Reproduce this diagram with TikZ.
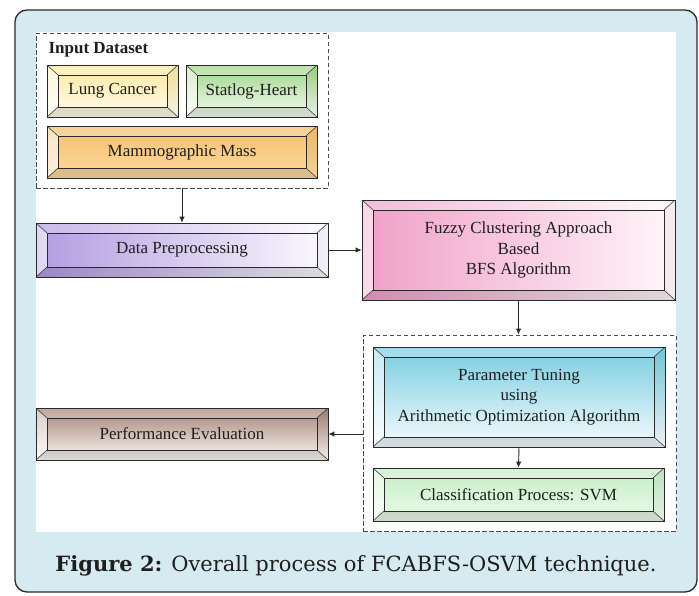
\documentclass[tikz,border=0pt]{standalone}
\usepackage{fontspec}
\setmainfont{Liberation Serif}
\newfontfamily\capfont{DejaVu Serif}
\usetikzlibrary{calc,arrows.meta}
\definecolor{panelblue}{HTML}{D6EBF1}
\definecolor{edge}{HTML}{2A2A2A}
\definecolor{txt}{HTML}{1E1E1E}
\newcommand{\boxfont}{\fontsize{17}{20.5}\selectfont}
\tikzset{
  bevel/.style={rectangle, draw=edge, line width=0.8pt, inner sep=0pt, align=center,
    font=\boxfont, text=txt,
    path picture={
      \path (path picture bounding box.south west) coordinate (bSW)
            (path picture bounding box.north east) coordinate (bNE);
      \path (bSW -| bNE) coordinate (bSE) (bNE -| bSW) coordinate (bNW);
      \path ($(bSW)+(11pt,10pt)$) coordinate (iSW) ($(bNE)+(-11pt,-10pt)$) coordinate (iNE);
      \path (iSW -| iNE) coordinate (iSE) (iNE -| iSW) coordinate (iNW);
      \fill[white,opacity=.6] (bSW) -- (bNW) -- (iNW) -- (iSW) -- cycle;
      \fill[white,opacity=.3] (bNW) -- (bNE) -- (iNE) -- (iNW) -- cycle;
      \fill[black,opacity=.12] (bSW) -- (bSE) -- (iSE) -- (iSW) -- cycle;
      \fill[black,opacity=.04] (bSE) -- (bNE) -- (iNE) -- (iSE) -- cycle;
      \draw[edge,line width=0.8pt] (iSW) rectangle (iNE);
      \draw[edge,line width=0.5pt] (bSW) -- (iSW) (bNW) -- (iNW) (bNE) -- (iNE) (bSE) -- (iSE);
    }},
  groupbox/.style={rectangle, draw=edge!85, line width=0.9pt, dash pattern=on 4.5pt off 2.5pt, inner sep=0pt},
  conn/.style={draw=edge, line width=0.9pt, -{Latex[length=6pt,width=5.5pt]}}
}
\begin{document}
\begin{tikzpicture}[x=1pt,y=-1pt]
\useasboundingbox (0,0) rectangle (699,595);
% outer frame and white panel
\path[fill=panelblue, draw=edge, line width=1.3pt, rounded corners=12pt] (15,10) rectangle (697,592);
\fill[white!99!gray] (36,32) rectangle (676,532);

% input dataset group
\node[groupbox, minimum width=292pt, minimum height=155pt] (input) at (182,110.5) {};
\node[anchor=west, font=\fontsize{17}{20}\selectfont\bfseries, text=txt] (inputlbl) at (45,50) {Input Dataset};
\node[bevel, minimum width=131pt, minimum height=52pt, top color={rgb,255:red,251;green,232;blue,160}, bottom color={rgb,255:red,255;green,252;blue,236}] (lung) at (112.5,91) {Lung Cancer};
\node[bevel, minimum width=131pt, minimum height=52pt, top color={rgb,255:red,160;green,212;blue,136}, bottom color={rgb,255:red,246;green,252;blue,242}] (heart) at (251.5,91) {Statlog-Heart};
\node[bevel, minimum width=270pt, minimum height=52pt, top color={rgb,255:red,246;green,190;blue,106}, bottom color={rgb,255:red,252;green,218;blue,160}] (mammo) at (182,152) {Mammographic Mass};

% data preprocessing
\node[bevel, minimum width=292pt, minimum height=54pt, left color={rgb,255:red,178;green,156;blue,224}, right color={rgb,255:red,252;green,250;blue,255}] (dp) at (182,250) {Data Preprocessing};

% fuzzy clustering
\node[bevel, minimum width=313pt, minimum height=100pt, left color={rgb,255:red,240;green,160;blue,200}, right color={rgb,255:red,255;green,246;blue,250}] (fuzzy) at (518.5,250) {Fuzzy Clustering Approach\\Based\\BFS Algorithm};

% optimisation group
\node[groupbox, minimum width=313pt, minimum height=196pt] (opt) at (519.5,433) {};
\node[bevel, minimum width=292pt, minimum height=100pt, top color={rgb,255:red,120;green,204;blue,224}, bottom color={rgb,255:red,246;green,252;blue,254}] (pt) at (519,397) {Parameter Tuning\\using\\Arithmetic Optimization Algorithm};
\node[bevel, minimum width=291pt, minimum height=53pt, top color={rgb,255:red,196;green,238;blue,196}, bottom color={rgb,255:red,236;green,250;blue,236}] (cls) at (518.5,494.5) {Classification Process: SVM};

% performance evaluation
\node[bevel, minimum width=292pt, minimum height=52pt, top color={rgb,255:red,164;green,130;blue,116}, bottom color={rgb,255:red,252;green,248;blue,246}] (pe) at (182,434) {Performance Evaluation};

% connectors
\draw[conn] (input.south) -- (dp.north);
\draw[conn] (dp.east) -- (fuzzy.west);
\draw[conn] (fuzzy.south) -- (fuzzy.south |- opt.north);
\draw[conn] (pt.south) -- (cls.north);
\draw[conn] (pe.east -| opt.west) -- (pe.east);

% caption
\node[font=\capfont\fontsize{21}{25}\selectfont, text=txt] (caption) at (356,566) {\textbf{Figure 2:} Overall process of FCABFS-OSVM technique.};
\end{tikzpicture}
\end{document}
